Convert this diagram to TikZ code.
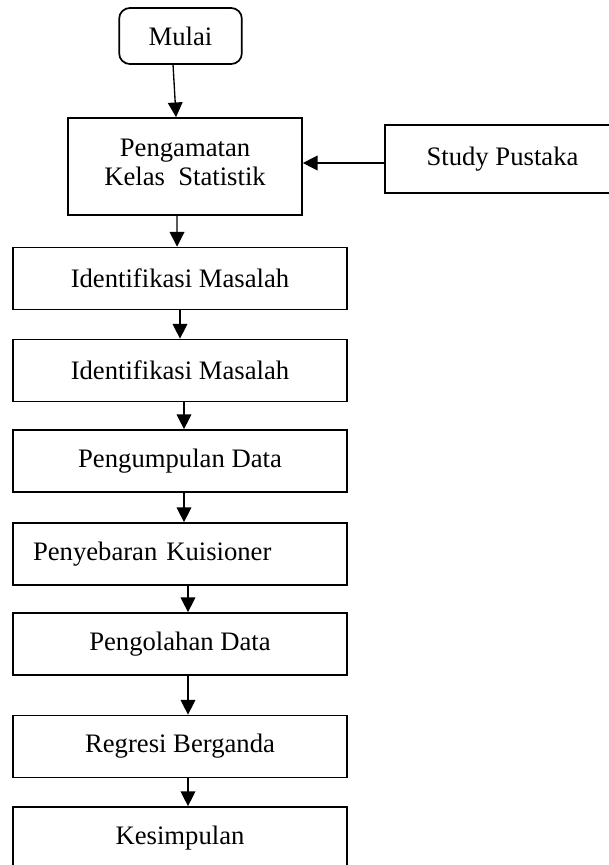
\documentclass[tikz,border=0pt]{standalone}
\usepackage{fontspec}
\setmainfont{Liberation Serif}
\usepackage{tikz}
\usetikzlibrary{arrows.meta,positioning}

\begin{document}
\begin{tikzpicture}[x=0.75pt, y=-0.75pt,
	box/.style={draw=black, line width=1.3pt, fill=white, minimum width=250.5pt, minimum height=46.5pt, inner sep=0pt, font=\fontsize{20}{22}\selectfont},
	arr/.style={-{Triangle[length=11pt,width=11pt]}, line width=1pt}]
	\useasboundingbox (0,0) rectangle (608,865);
	\node[box, rounded corners=8pt, minimum width=92pt, minimum height=42pt] (mulai) at (180.5,36) {Mulai};
	\node[box, align=center, minimum width=175.5pt, minimum height=72.75pt, text depth=6pt] (amat) at (185,166.5) {Pengamatan\\Kelas\ \ Statistik};
	\node[box, minimum width=176pt, minimum height=51pt] (pustaka) at (502.5,159) {Study Pustaka};
	\node[box] (ident1) at (180,278.5) {Identifikasi Masalah};
	\node[box] (ident2) at (180,370.5) {Identifikasi Masalah};
	\node[box] (kumpul) at (180,461) {Pengumpulan Data};
	\node[box, text width=220.5pt, align=left, inner xsep=15pt] (sebar) at (180,554) {Penyebaran Kuisioner};
	\node[box] (olah) at (180,644) {Pengolahan Data};
	\node[box] (regresi) at (180,746.5) {Regresi Berganda};
	\node[box] (simpul) at (180,838) {Kesimpulan};

	\draw[arr] ([xshift=-5.6pt]mulai.south) -- ([xshift=-6.7pt]amat.north);
	\draw[arr] ([yshift=-3pt]pustaka.west) -- ([yshift=-3pt]pustaka.west -| amat.east);
	\draw[arr] ([xshift=-6pt]amat.south) -- ([xshift=-2.2pt]ident1.north);
	\draw[arr] (ident1.south) -- (ident2.north);
	\draw[arr] ([xshift=3pt]ident2.south) -- ([xshift=3pt]kumpul.north);
	\draw[arr] ([xshift=3pt]kumpul.south) -- ([xshift=3pt]sebar.north);
	\draw[arr] ([xshift=6pt]sebar.south) -- ([xshift=6pt]olah.north);
	\draw[arr] ([xshift=6pt]olah.south) -- ([xshift=6pt]regresi.north);
	\draw[arr] ([xshift=6pt]regresi.south) -- ([xshift=6pt]simpul.north);
\end{tikzpicture}
\end{document}
